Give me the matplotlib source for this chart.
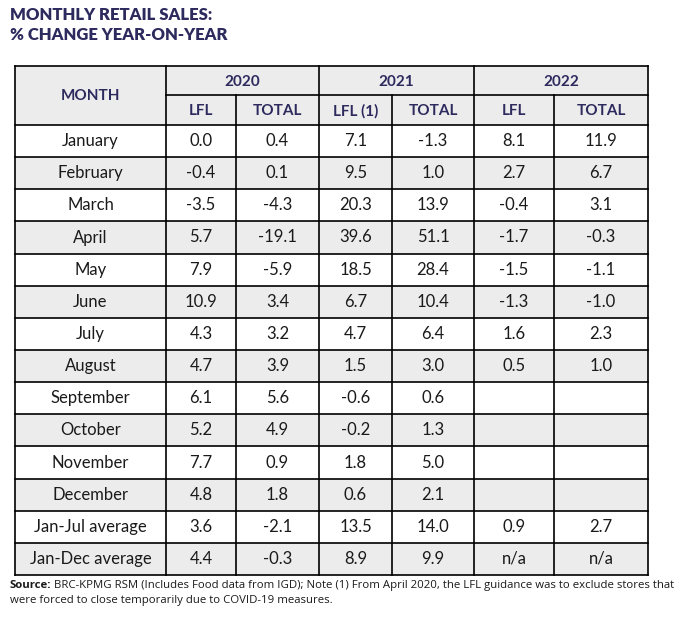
import matplotlib
matplotlib.use("Agg")
import matplotlib.pyplot as plt
from matplotlib.patches import Rectangle

# ---- data ----
title_lines = ["MONTHLY RETAIL SALES:", "% CHANGE YEAR-ON-YEAR"]
years = ["2020", "2021", "2022"]
sub_headers = ["LFL", "TOTAL", "LFL (1)", "TOTAL", "LFL", "TOTAL"]
months = ["January", "February", "March", "April", "May", "June", "July",
          "August", "September", "October", "November", "December",
          "Jan-Jul average", "Jan-Dec average"]
lfl_2020 = ["0.0", "-0.4", "-3.5", "5.7", "7.9", "10.9", "4.3", "4.7", "6.1", "5.2", "7.7", "4.8", "3.6", "4.4"]
tot_2020 = ["0.4", "0.1", "-4.3", "-19.1", "-5.9", "3.4", "3.2", "3.9", "5.6", "4.9", "0.9", "1.8", "-2.1", "-0.3"]
lfl_2021 = ["7.1", "9.5", "20.3", "39.6", "18.5", "6.7", "4.7", "1.5", "-0.6", "-0.2", "1.8", "0.6", "13.5", "8.9"]
tot_2021 = ["-1.3", "1.0", "13.9", "51.1", "28.4", "10.4", "6.4", "3.0", "0.6", "1.3", "5.0", "2.1", "14.0", "9.9"]
lfl_2022 = ["8.1", "2.7", "-0.4", "-1.7", "-1.5", "-1.3", "1.6", "0.5", "", "", "", "", "0.9", "n/a"]
tot_2022 = ["11.9", "6.7", "3.1", "-0.3", "-1.1", "-1.0", "2.3", "1.0", "", "", "", "", "2.7", "n/a"]
source_bold = "Source:"
source_text = ("BRC-KPMG RSM (Includes Food data from IGD); Note (1) From April 2020, "
               "the LFL guidance was to exclude stores that")
source_text2 = "were forced to close temporarily due to COVID-19 measures."

navy = "#2d2a5e"
grey = "#ececec"
lw = 1.2

# layout in pixels
col_x = [15, 166, 236, 319, 392, 474, 554, 648]
head_y = [66, 95, 125]
row_h = (575 - 125) / len(months)

fig = plt.figure(figsize=(6.92, 6.2), dpi=100)
ax = fig.add_axes([0, 0, 1, 1])
ax.set_xlim(0, 692)
ax.set_ylim(620, 0)
ax.axis("off")

# title
for i, line in enumerate(title_lines):
    ax.text(10, 15.5 + i * 20, line, fontsize=12, fontweight="heavy", color=navy,
            family="Lato", va="center", ha="left")

# header background
ax.add_patch(Rectangle((col_x[0], head_y[0]), col_x[-1] - col_x[0], head_y[2] - head_y[0],
                       facecolor=grey, edgecolor="none"))

hfont = dict(fontsize=11, fontweight="bold", color=navy, family="Lato", va="center", ha="center")
ax.text((col_x[0] + col_x[1]) / 2, (head_y[0] + head_y[2]) / 2 + 1, "MONTH", **hfont)
for i, yr in enumerate(years):
    x0, x1 = col_x[1 + 2 * i], col_x[3 + 2 * i]
    ax.text((x0 + x1) / 2, (head_y[0] + head_y[1]) / 2 + 1, yr, **hfont)
for i, sh in enumerate(sub_headers):
    ax.text((col_x[1 + i] + col_x[2 + i]) / 2, (head_y[1] + head_y[2]) / 2 + 1, sh, **hfont)

# body
columns = [months, lfl_2020, tot_2020, lfl_2021, tot_2021, lfl_2022, tot_2022]
for r in range(len(months)):
    y0 = head_y[2] + r * row_h
    if r % 2 == 1:
        ax.add_patch(Rectangle((col_x[0], y0), col_x[-1] - col_x[0], row_h,
                               facecolor=grey, edgecolor="none"))
    for c, col in enumerate(columns):
        ax.text((col_x[c] + col_x[c + 1]) / 2, y0 + row_h / 2, col[r], fontsize=12,
                color="#1a1a1a", family="Lato", va="center", ha="center")

# grid lines
bottom = head_y[2] + len(months) * row_h
kw = dict(color="black", lw=lw, solid_capstyle="projecting")
ax.plot([col_x[0], col_x[-1]], [head_y[0], head_y[0]], **kw)
ax.plot([col_x[1], col_x[-1]], [head_y[1], head_y[1]], **kw)
for r in range(len(months) + 1):
    y = head_y[2] + r * row_h
    ax.plot([col_x[0], col_x[-1]], [y, y], **kw)
for i, x in enumerate(col_x):
    top = head_y[1] if i in (2, 4, 6) else head_y[0]
    ax.plot([x, x], [top, bottom], **kw)

# footnote
fs = 8.2
t = ax.text(10, 588, source_bold, fontsize=fs, fontweight="bold", color="#1a1a1a",
            family="Open Sans", va="baseline", ha="left")
fig.canvas.draw()
bb = t.get_window_extent().transformed(ax.transData.inverted())
ax.text(bb.x1 + 2.5, 588, source_text, fontsize=fs, color="#1a1a1a",
        family="Open Sans", va="baseline", ha="left")
ax.text(10, 603, source_text2, fontsize=fs, color="#1a1a1a",
        family="Open Sans", va="baseline", ha="left")

fig.savefig("out.png", dpi=100)
